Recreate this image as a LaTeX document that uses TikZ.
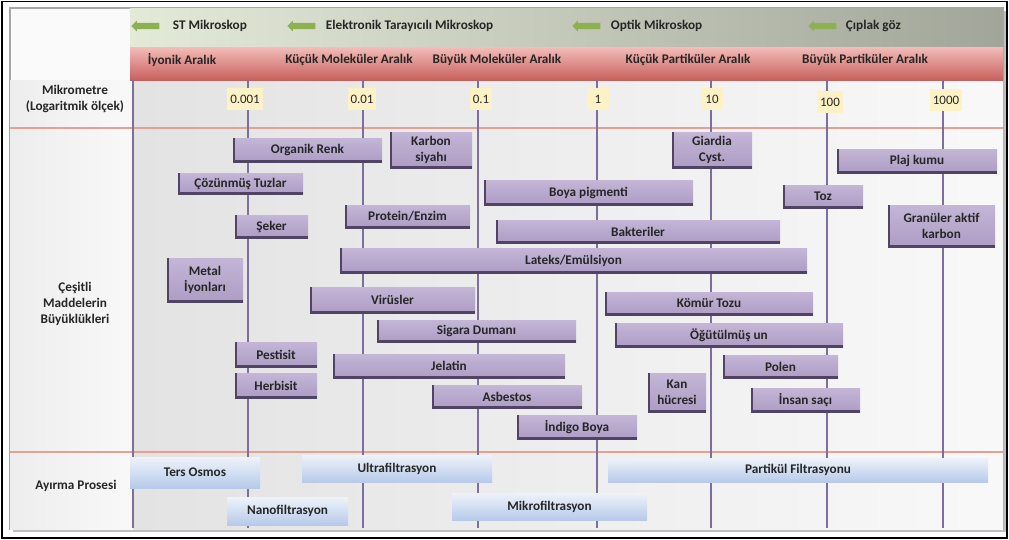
\documentclass[tikz,border=0pt]{standalone}
\usepackage{fontspec}
\setmainfont{Carlito}
\usetikzlibrary{shapes.arrows,shadows}

\definecolor{gridline}{HTML}{7D6E9E}
\definecolor{barfill}{HTML}{AD9CC4}
\definecolor{bartop}{HTML}{C3B6D6}
\definecolor{baredge}{HTML}{4F4463}
\definecolor{sepline}{HTML}{E3A192}
\definecolor{legendgreen}{HTML}{8DB052}
\definecolor{legendlight}{HTML}{E4EAD8}
\definecolor{legenddark}{HTML}{A2A69A}
\definecolor{numfill}{HTML}{FDF1C6}
\definecolor{rangetop}{HTML}{F3BDB9}
\definecolor{rangebot}{HTML}{C7605C}
\definecolor{proctop}{HTML}{EEF3FA}
\definecolor{procbot}{HTML}{B7CAE9}
\definecolor{inktext}{HTML}{262626}

% box from (x1,y1) to (x2,y2), in pixels of the picture
\newcommand{\spanbox}[6]{\node[#1, minimum width={(#4-#2)*0.025cm}, minimum height={(#5-#3)*0.025cm}] (#6) at ({(#2+#4)/2},{(#3+#5)/2})}

\tikzset{
  sizebar/.style={inner sep=0pt, top color=bartop, bottom color=barfill, align=center, text=inktext,
    path picture={\draw[baredge, line width=3pt] (path picture bounding box.north west) |- (path picture bounding box.south east);}},
  procbar/.style={inner sep=0pt, top color=proctop, bottom color=procbot, text=inktext},
  numbox/.style={fill=numfill, inner sep=2pt, minimum width=0.55cm, minimum height=0.55cm, text=inktext, font=\fontsize{9.2}{11}\selectfont},
  legarrow/.style={single arrow, shape border rotate=180, fill=legendgreen, inner xsep=0pt, inner ysep=2.1pt,
    minimum height=0.7cm, single arrow head extend=1.6pt},
  sidelabel/.style={align=center, text=inktext},
}

\begin{document}
\begin{tikzpicture}[x=0.025cm, y=-0.025cm, font=\fontsize{9.4}{11.5}\selectfont\bfseries]
  \useasboundingbox (0,0) rectangle (1009,540);
  \fill[white] (0,0) rectangle (1009,540);
  \draw[black, line width=1.2pt] (2,1.5) rectangle (1007,538);

  % panel and backgrounds
  \filldraw[fill=gray!4, draw=gray!70, line width=1.5pt, drop shadow] (10,8) rectangle (1003,529);
  \shade[left color=gray!14, right color=gray!5] (10,80) rectangle (133,529);
  \shade[left color=gray!22, middle color=gray!45, right color=gray!5] (133,80) rectangle (1003,529);
  \shade[left color=legendlight, middle color=legendlight, right color=legenddark] (130,8) rectangle (1003,47);
  \shade[top color=rangetop, bottom color=rangebot] (130,47) rectangle (1003,80);

  \draw[sepline, line width=0.8pt] (10,128) -- (1003,128);
  \draw[sepline, line width=0.8pt] (10,452) -- (1003,452);

  \foreach \gx in {133,248,363,478,597,711,827,943}
    \draw[gridline, line width=1.3pt] (\gx,80) -- (\gx,528);

  % microscope legend
  \node[legarrow] (arrST) at (147,26) {};
  \node[anchor=west, text=inktext] (legST) at (168,26) {ST Mikroskop};
  \node[legarrow] (arrET) at (303,26) {};
  \node[anchor=west, text=inktext] (legET) at (321,26) {Elektronik Tarayıcılı Mikroskop};
  \node[legarrow] (arrOM) at (588,26) {};
  \node[anchor=west, text=inktext] (legOM) at (606,26) {Optik Mikroskop};
  \node[legarrow] (arrCG) at (824,26) {};
  \node[anchor=west, text=inktext] (legCG) at (841,26) {Çıplak göz};

  % size ranges
  \node[text=inktext] (ionic) at (182,60) {İyonik Aralık};
  \node[text=inktext] (smallmol) at (349,60) {Küçük Moleküler Aralık};
  \node[text=inktext] (bigmol) at (497,60) {Büyük Moleküler Aralık};
  \node[text=inktext] (smallpart) at (688,60) {Küçük Partiküler Aralık};
  \node[text=inktext] (bigpart) at (865,60) {Büyük Partiküler Aralık};

  % scale
  \node[numbox] (n0001) at (245,99) {0.001};
  \node[numbox] (n001) at (362,99) {0.01};
  \node[numbox] (n01) at (481,99) {0.1};
  \node[numbox] (n1) at (598,99) {1};
  \node[numbox] (n10) at (712,99) {10};
  \node[numbox] (n100) at (830,102) {100};
  \node[numbox] (n1000) at (946,100) {1000};

  % row labels
  \node[sidelabel] (mikrometre) at (75,99) {Mikrometre\\(Logaritmik ölçek)};
  \node[sidelabel] (cesitli) at (75,304) {Çeşitli\\Maddelerin\\Büyüklükleri};
  \node[sidelabel] (ayirma) at (76,486) {Ayırma Prosesi};

  % substances
  \spanbox{sizebar}{233}{138}{382}{162}{organik} {Organik Renk};
  \spanbox{sizebar}{390}{132}{472}{168}{karbon} {Karbon\\siyahı};
  \spanbox{sizebar}{178}{173}{303}{194}{tuzlar} {Çözünmüş Tuzlar};
  \spanbox{sizebar}{235}{215}{308}{238}{seker} {Şeker};
  \spanbox{sizebar}{345}{205}{470}{228}{protein} {Protein/Enzim};
  \spanbox{sizebar}{167}{258}{243}{302}{metal} {Metal\\İyonları};
  \spanbox{sizebar}{340}{248}{807}{273}{lateks} {Lateks/Emülsiyon};
  \spanbox{sizebar}{672}{132}{752}{168}{giardia} {Giardia\\Cyst.};
  \spanbox{sizebar}{837}{149}{997}{173}{plaj} {Plaj kumu};
  \spanbox{sizebar}{484}{180}{693}{205}{boya} {Boya pigmenti};
  \spanbox{sizebar}{783}{185}{863}{208}{toz} {Toz};
  \spanbox{sizebar}{888}{205}{995}{247}{granuler} {Granüler aktif\\karbon};
  \spanbox{sizebar}{496}{220}{780}{243}{bakteri} {Bakteriler};
  \spanbox{sizebar}{310}{287}{475}{313}{virus} {Virüsler};
  \spanbox{sizebar}{377}{320}{576}{342}{sigara} {Sigara Dumanı};
  \spanbox{sizebar}{235}{342}{317}{367}{pestisit} {Pestisit};
  \spanbox{sizebar}{235}{373}{317}{398}{herbisit} {Herbisit};
  \spanbox{sizebar}{333}{354}{565}{378}{jelatin} {Jelatin};
  \spanbox{sizebar}{432}{385}{582}{408}{asbest} {Asbestos};
  \spanbox{sizebar}{517}{415}{637}{439}{indigo} {İndigo Boya};
  \spanbox{sizebar}{605}{292}{813}{315}{komur} {Kömür Tozu};
  \spanbox{sizebar}{615}{323}{843}{347}{un} {Öğütülmüş un};
  \spanbox{sizebar}{723}{355}{838}{378}{polen} {Polen};
  \spanbox{sizebar}{648}{373}{706}{412}{kan} {Kan\\hücresi};
  \spanbox{sizebar}{751}{388}{860}{412}{sac} {İnsan saçı};

  % separation processes
  \spanbox{procbar}{130}{457}{260}{488}{osmos} {Ters Osmos};
  \spanbox{procbar}{302}{455}{492}{482}{ultra} {Ultrafiltrasyon};
  \spanbox{procbar}{227}{497}{348}{525}{nano} {Nanofiltrasyon};
  \spanbox{procbar}{452}{493}{647}{520}{mikro} {Mikrofiltrasyon};
  \spanbox{procbar}{608}{458}{988}{482}{partikul} {Partikül Filtrasyonu};
\end{tikzpicture}
\end{document}
